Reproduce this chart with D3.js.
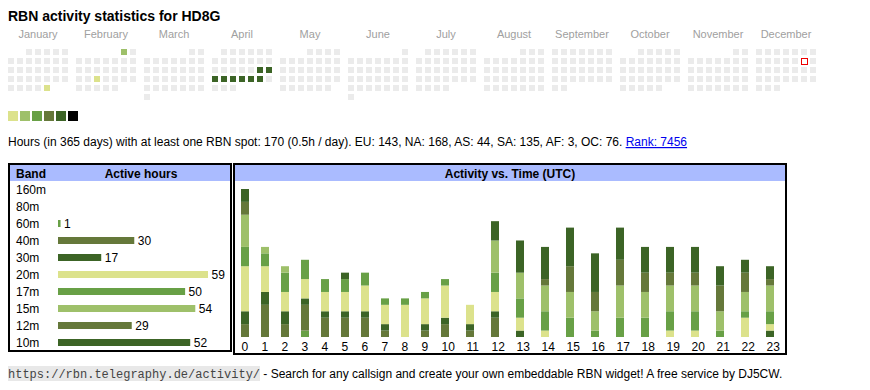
<!DOCTYPE html>
<html>
<head>
<meta charset="utf-8">
<script src="https://cdn.jsdelivr.net/npm/d3@7"></script>
<style>
  body { margin: 0; background: #fff; }
  svg text { font-family: "Liberation Sans", Arial, sans-serif; }
</style>
</head>
<body>
<div id="chart"></div>
<script>
// ---- data ----
var callsign = 'HD8G'
var monthNames = ['January','February','March','April','May','June','July','August','September','October','November','December']
var activeDays = ['2025-01-31','2025-02-01','2025-02-19','2025-04-19','2025-04-20','2025-04-21','2025-04-22','2025-04-23','2025-04-24','2025-04-25','2025-04-26']
var activeLevels = [1, 2, 1, 5, 5, 5, 5, 5, 5, 5, 5]
var today = '2025-12-13'

var bands = ['160m','80m','60m','40m','30m','20m','17m','15m','12m','10m']
var bandHours = [0, 0, 1, 30, 17, 59, 50, 54, 29, 52]

var utcHours = d3.range(24).map(String)
var h160m = [0,0,0,0,0,0,0,0,0,0,0,0,0,0,0,0,0,0,0,0,0,0,0,0]
var h80m  = [0,0,0,0,0,0,0,0,0,0,0,0,0,0,0,0,0,0,0,0,0,0,0,0]
var h60m  = [0,0,0,1,0,0,0,0,0,0,0,0,0,0,0,0,0,0,0,0,0,0,0,0]
var h40m  = [2,5,2,4,3,3,3,1,0,1,2,1,3,0,0,0,0,0,0,0,0,0,0,0]
var h30m  = [2,2,2,1,1,1,1,1,0,1,1,1,1,1,0,0,0,0,0,0,0,0,0,1]
var h20m  = [7,4,3,3,3,3,4,3,5,4,5,3,3,2,1,0,0,0,0,1,1,0,3,1]
var h17m  = [3,2,3,3,2,2,2,1,1,1,1,0,3,3,3,3,1,3,3,3,3,1,1,2]
var h15m  = [5,1,1,0,0,0,0,0,0,0,0,0,5,4,4,4,3,5,4,4,4,3,3,4]
var h12m  = [2,0,0,0,0,0,0,0,0,0,0,0,0,0,1,4,3,4,3,2,2,4,3,1]
var h10m  = [2,0,0,0,0,1,0,0,0,0,0,0,3,5,5,6,6,5,4,4,4,3,2,2]

var infoText = 'Hours (in 365 days) with at least one RBN spot: 170 (0.5h / day). EU: 143, NA: 168, AS: 44, SA: 135, AF: 3, OC: 76. '
var rankText = 'Rank: 7456'
var footUrl = 'https://rbn.telegraphy.de/activity/'
var footText = ' - Search for any callsign and create your own embeddable RBN widget! A free service by DJ5CW.'

// ---- styles ----
var levelColors = ['#dce28c', '#9ec06a', '#68a046', '#65783a', '#3c6426', '#000000']
var bandColor = d3.scaleOrdinal()
  .domain(bands)
  .range(['#dce28c', '#9ec06a', '#68a046', '#65783a', '#3c6426', '#dce28c', '#68a046', '#9ec06a', '#65783a', '#3c6426'])

var width = 870, height = 390
var svg = d3.select('#chart').append('svg').attr('width', width).attr('height', height)

// title
svg.append('text')
  .attr('x', 8).attr('y', 21)
  .attr('font-size', 14).attr('font-weight', 'bold')
  .text('RBN activity statistics for ' + callsign)

// ---- calendar ----
var cell = 6, pitch = 9, monthPitch = 68, calLeft = 8, calTop = 49
var levelByDay = {}
activeDays.forEach(function (d, i) { levelByDay[d] = activeLevels[i] })
var fmt = d3.timeFormat('%Y-%m-%d')

monthNames.forEach(function (name, m) {
  var g = svg.append('g').attr('transform', 'translate(' + (calLeft + m * monthPitch) + ',0)')
  g.append('text')
    .attr('x', (7 * pitch - (pitch - cell)) / 2).attr('y', 38)
    .attr('text-anchor', 'middle').attr('font-size', 11).attr('fill', '#a0a0a0')
    .text(name)
  var first = new Date(2025, m, 1)
  var offset = (first.getDay() + 6) % 7
  var days = d3.timeDays(first, new Date(2025, m + 1, 1))
  g.selectAll('rect.day')
    .data(days)
    .enter()
    .append('rect')
    .attr('class', 'day')
    .attr('x', function (d) { return ((d.getDay() + 6) % 7) * pitch })
    .attr('y', function (d) { return calTop + Math.floor((d.getDate() - 1 + offset) / 7) * pitch })
    .attr('width', cell).attr('height', cell)
    .attr('fill', function (d) {
      var k = fmt(d)
      if (k === today) return '#fff'
      return levelByDay[k] ? levelColors[levelByDay[k] - 1] : '#ebebeb'
    })
    .attr('stroke', function (d) { return fmt(d) === today ? '#e00' : 'none' })
    .attr('transform', function (d) { return fmt(d) === today ? 'translate(0.5,0.5)' : null })
})

// level legend
svg.selectAll('rect.legend')
  .data(levelColors)
  .enter()
  .append('rect')
  .attr('class', 'legend')
  .attr('x', function (d, i) { return 8 + i * 12 })
  .attr('y', 111).attr('width', 10).attr('height', 10)
  .attr('fill', function (d) { return d })

// info line
var info = svg.append('text').attr('x', 8).attr('y', 146).attr('font-size', 12)
info.append('tspan').text(infoText)
info.append('tspan').attr('fill', '#0000ee').attr('text-decoration', 'underline').text(rankText)

// ---- band table ----
var bt = svg.append('g')
bt.append('rect').attr('x', 9).attr('y', 164).attr('width', 222).attr('height', 187)
  .attr('fill', '#fff').attr('stroke', '#000').attr('stroke-width', 2)
bt.append('rect').attr('x', 10).attr('y', 165).attr('width', 220).attr('height', 16).attr('fill', '#aabbff')
bt.append('text').attr('x', 16).attr('y', 177.5).attr('font-size', 12).attr('font-weight', 'bold').text('Band')
bt.append('text').attr('x', 141).attr('y', 177.5).attr('font-size', 12).attr('font-weight', 'bold')
  .attr('text-anchor', 'middle').text('Active hours')

var rowY = d3.scaleBand().domain(bands).range([181, 351]).paddingInner(0)
var hx = d3.scaleLinear().domain([0, d3.max(bandHours)]).range([0, 150])
var rows = bt.selectAll('g.row')
  .data(bands)
  .enter()
  .append('g')
  .attr('class', 'row')
  .attr('transform', function (d) { return 'translate(0,' + (rowY(d) + rowY.bandwidth() / 2) + ')' })
rows.append('text').attr('x', 16).attr('y', 4.3).attr('font-size', 12).text(function (d) { return d })
rows.filter(function (d, i) { return bandHours[i] > 0 })
  .append('rect')
  .attr('x', 58).attr('y', -3.5).attr('height', 7)
  .attr('width', function (d) { return hx(bandHours[bands.indexOf(d)]) })
  .attr('fill', function (d) { return bandColor(d) })
rows.filter(function (d, i) { return bandHours[i] > 0 })
  .append('text')
  .attr('x', function (d) { return 58 + hx(bandHours[bands.indexOf(d)]) + 3.5 })
  .attr('y', 4.3).attr('font-size', 12)
  .text(function (d) { return bandHours[bands.indexOf(d)] })

// ---- activity vs time ----
var at = svg.append('g')
at.append('rect').attr('x', 234).attr('y', 164).attr('width', 552).attr('height', 190)
  .attr('fill', '#fff').attr('stroke', '#000').attr('stroke-width', 2)
at.append('rect').attr('x', 235).attr('y', 165).attr('width', 550).attr('height', 16).attr('fill', '#aabbff')
at.append('text').attr('x', 510).attr('y', 177.5).attr('font-size', 12).attr('font-weight', 'bold')
  .attr('text-anchor', 'middle').text('Activity vs. Time (UTC)')

var perBand = [h160m, h80m, h60m, h40m, h30m, h20m, h17m, h15m, h12m, h10m]
var table = utcHours.map(function (h, i) {
  var row = { hour: h }
  bands.forEach(function (b, j) { row[b] = perBand[j][i] })
  return row
})
var series = d3.stack().keys(bands)(table)

// table columns: narrow for one digit hours, wider for two
var colStarts = []
utcHours.reduce(function (acc, h) { colStarts.push(acc); return acc + 15 + 5 * h.length }, 241)
var x = d3.scaleOrdinal().domain(utcHours).range(colStarts)
var y = d3.scaleLinear()
  .domain([0, d3.max(series[series.length - 1], function (d) { return d[1] })])
  .range([337, 189])

at.selectAll('g.band')
  .data(series)
  .enter()
  .append('g')
  .attr('class', 'band')
  .attr('fill', function (d) { return bandColor(d.key) })
  .selectAll('rect')
  .data(function (d) { return d.filter(function (v) { return v[1] > v[0] }) })
  .enter()
  .append('rect')
  .attr('x', function (d) { return x(d.data.hour) })
  .attr('width', 8)
  .attr('y', function (d) { return y(d[1]) })
  .attr('height', function (d) { return y(d[0]) - y(d[1]) })

at.selectAll('text.hour')
  .data(utcHours)
  .enter()
  .append('text')
  .attr('class', 'hour')
  .attr('x', function (d) { return x(d) + 0.5 })
  .attr('y', 350.5)
  .attr('font-size', 12)
  .text(function (d) { return d })

// ---- footer ----
var foot = svg.append('g')
foot.append('rect').attr('x', 8).attr('y', 366).attr('width', 252).attr('height', 15).attr('fill', '#e8e8e8')
foot.append('text').attr('x', 8).attr('y', 378)
  .attr('font-size', 12).style('font-family', '"Liberation Mono", monospace').attr('fill', '#444')
  .text(footUrl)
foot.append('text').attr('x', 260).attr('y', 378).attr('font-size', 12)
  .style('white-space', 'pre').text(footText)
</script>
</body>
</html>
